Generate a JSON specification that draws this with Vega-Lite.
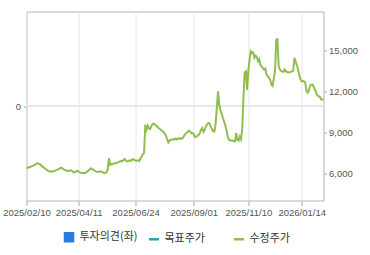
{
  "$schema": "https://vega.github.io/schema/vega-lite/v6.json",
  "autosize": "none",
  "width": 297,
  "height": 189,
  "padding": {"left": 26.5, "top": 11.5, "right": 46.5, "bottom": 54.5},
  "background": "white",
  "config": {
    "view": {"stroke": "#b4b4b4", "strokeWidth": 1},
    "axis": {"labelFont": "Liberation Sans", "labelFontSize": 9.5, "labelColor": "#555555", "tickColor": "#aaaaaa", "domain": false, "title": null, "labelOverlap": false, "labelFlush": false, "labelBound": false}
  },
  "data": {"values": [
    {"i":0,"p":6400},{"i":1,"p":6420},{"i":2,"p":6470},{"i":3,"p":6460},{"i":4,"p":6520},{"i":5,"p":6560},{"i":6,"p":6600},{"i":7,"p":6640},{"i":8,"p":6700},{"i":9,"p":6760},
    {"i":10,"p":6720},{"i":11,"p":6690},{"i":12,"p":6600},{"i":13,"p":6510},{"i":14,"p":6450},{"i":15,"p":6380},{"i":16,"p":6320},{"i":17,"p":6260},{"i":18,"p":6200},{"i":19,"p":6150},
    {"i":20,"p":6160},{"i":21,"p":6140},{"i":22,"p":6150},{"i":23,"p":6190},{"i":24,"p":6220},{"i":25,"p":6260},{"i":26,"p":6300},{"i":27,"p":6340},{"i":28,"p":6400},{"i":29,"p":6420},
    {"i":30,"p":6350},{"i":31,"p":6280},{"i":32,"p":6260},{"i":33,"p":6200},{"i":34,"p":6180},{"i":35,"p":6200},{"i":36,"p":6230},{"i":37,"p":6220},{"i":38,"p":6150},{"i":39,"p":6080},
    {"i":40,"p":6100},{"i":41,"p":6170},{"i":42,"p":6200},{"i":43,"p":6140},{"i":44,"p":6080},{"i":45,"p":6050},{"i":46,"p":6030},{"i":47,"p":6040},{"i":48,"p":6030},{"i":49,"p":6080},
    {"i":50,"p":6140},{"i":51,"p":6200},{"i":52,"p":6300},{"i":53,"p":6370},{"i":54,"p":6340},{"i":55,"p":6280},{"i":56,"p":6220},{"i":57,"p":6160},{"i":58,"p":6130},{"i":59,"p":6120},
    {"i":60,"p":6140},{"i":61,"p":6150},{"i":62,"p":6140},{"i":63,"p":6080},{"i":64,"p":6030},{"i":65,"p":6050},{"i":66,"p":6080},{"i":67,"p":6300},{"i":68,"p":7120},{"i":69,"p":6640},
    {"i":70,"p":6700},{"i":71,"p":6680},{"i":72,"p":6720},{"i":73,"p":6750},{"i":74,"p":6760},{"i":75,"p":6800},{"i":76,"p":6850},{"i":77,"p":6880},{"i":78,"p":6920},{"i":79,"p":6900},
    {"i":80,"p":6980},{"i":81,"p":7050},{"i":82,"p":6950},{"i":83,"p":6880},{"i":84,"p":6900},{"i":85,"p":6960},{"i":86,"p":6930},{"i":87,"p":7000},{"i":88,"p":7050},{"i":89,"p":6980},
    {"i":90,"p":6950},{"i":91,"p":6930},{"i":92,"p":6960},{"i":93,"p":6920},{"i":94,"p":7100},{"i":95,"p":7250},{"i":96,"p":7400},{"i":97,"p":7500},{"i":98,"p":9560},{"i":99,"p":9200},
    {"i":100,"p":9490},{"i":101,"p":9300},{"i":102,"p":9250},{"i":103,"p":9480},{"i":104,"p":9600},{"i":105,"p":9650},{"i":106,"p":9560},{"i":107,"p":9500},{"i":108,"p":9420},{"i":109,"p":9330},
    {"i":110,"p":9250},{"i":111,"p":9180},{"i":112,"p":9100},{"i":113,"p":9050},{"i":114,"p":8900},{"i":115,"p":8760},{"i":116,"p":8500},{"i":117,"p":8270},{"i":118,"p":8410},{"i":119,"p":8450},
    {"i":120,"p":8480},{"i":121,"p":8520},{"i":122,"p":8480},{"i":123,"p":8540},{"i":124,"p":8500},{"i":125,"p":8560},{"i":126,"p":8580},{"i":127,"p":8530},{"i":128,"p":8560},{"i":129,"p":8600},
    {"i":130,"p":8760},{"i":131,"p":8880},{"i":132,"p":8950},{"i":133,"p":9050},{"i":134,"p":9140},{"i":135,"p":9060},{"i":136,"p":8950},{"i":137,"p":8960},{"i":138,"p":8880},{"i":139,"p":8660},
    {"i":140,"p":8700},{"i":141,"p":8750},{"i":142,"p":8830},{"i":143,"p":8950},{"i":144,"p":9200},{"i":145,"p":9320},{"i":146,"p":9050},{"i":147,"p":9200},{"i":148,"p":9440},{"i":149,"p":9580},
    {"i":150,"p":9690},{"i":151,"p":9660},{"i":152,"p":9400},{"i":153,"p":9250},{"i":154,"p":9080},{"i":155,"p":9070},{"i":156,"p":9600},{"i":157,"p":10800},{"i":158,"p":12000},{"i":159,"p":11000},
    {"i":160,"p":10600},{"i":161,"p":10400},{"i":162,"p":10050},{"i":163,"p":9800},{"i":164,"p":9500},{"i":165,"p":9200},{"i":166,"p":8700},{"i":167,"p":8450},{"i":168,"p":8410},{"i":169,"p":8430},
    {"i":170,"p":8400},{"i":171,"p":8350},{"i":172,"p":8340},{"i":173,"p":8960},{"i":174,"p":8460},{"i":175,"p":8400},{"i":176,"p":8700},{"i":177,"p":8500},{"i":178,"p":9320},{"i":179,"p":11630},
    {"i":180,"p":13390},{"i":181,"p":13460},{"i":182,"p":12100},{"i":183,"p":13550},{"i":184,"p":14300},{"i":185,"p":14920},{"i":186,"p":14800},{"i":187,"p":14840},{"i":188,"p":14450},{"i":189,"p":14600},
    {"i":190,"p":14500},{"i":191,"p":14200},{"i":192,"p":14350},{"i":193,"p":13900},{"i":194,"p":13830},{"i":195,"p":13700},{"i":196,"p":13590},{"i":197,"p":13650},{"i":198,"p":13220},{"i":199,"p":13100},
    {"i":200,"p":12980},{"i":201,"p":12860},{"i":202,"p":12490},{"i":203,"p":12400},{"i":204,"p":12900},{"i":205,"p":13460},{"i":206,"p":15760},{"i":207,"p":15810},{"i":208,"p":13830},{"i":209,"p":13600},
    {"i":210,"p":13500},{"i":211,"p":13460},{"i":212,"p":13420},{"i":213,"p":13600},{"i":214,"p":13480},{"i":215,"p":13390},{"i":216,"p":13400},{"i":217,"p":13380},{"i":218,"p":13420},{"i":219,"p":13460},
    {"i":220,"p":13500},{"i":221,"p":14440},{"i":222,"p":14200},{"i":223,"p":13900},{"i":224,"p":13590},{"i":225,"p":13200},{"i":226,"p":12860},{"i":227,"p":12730},{"i":228,"p":12760},{"i":229,"p":12730},
    {"i":230,"p":12610},{"i":231,"p":12000},{"i":232,"p":11900},{"i":233,"p":12100},{"i":234,"p":12420},{"i":235,"p":12480},{"i":236,"p":12490},{"i":237,"p":12300},{"i":238,"p":12120},{"i":239,"p":11880},
    {"i":240,"p":11700},{"i":241,"p":11640},{"i":242,"p":11600},{"i":243,"p":11420},{"i":244,"p":11400},{"i":245,"p":11380}
  ]},
  "layer": [
    {
      "mark": {"type": "rule", "color": "#e6e6e6", "strokeWidth": 1},
      "encoding": {
        "y": {
          "datum": 0, "type": "quantitative",
          "scale": {"domain": [-1, 1], "nice": false, "zero": false},
          "axis": {"orient": "left", "values": [0], "grid": false, "tickSize": 3, "labelPadding": 3, "format": "d"}
        }
      }
    },
    {
      "mark": {"type": "line", "strokeWidth": 2, "interpolate": "linear"},
      "encoding": {
        "x": {
          "field": "i", "type": "quantitative",
          "scale": {"domain": [0, 245], "nice": false, "zero": false},
          "axis": {
            "orient": "bottom", "values": [0, 43, 90, 138, 183, 227], "grid": true, "gridColor": "#e6e6e6",
            "tickSize": 5, "labelPadding": 2,
            "labelExpr": "{'0':'2025/02/10','43':'2025/04/11','90':'2025/06/24','138':'2025/09/01','183':'2025/11/10','227':'2026/01/14'}[datum.value + '']"
          }
        },
        "y": {
          "field": "p", "type": "quantitative",
          "scale": {"domain": [4030, 17830], "nice": false, "zero": false},
          "axis": {"orient": "right", "values": [6000, 9000, 12000, 15000], "format": ",d", "grid": false, "tickSize": 3, "labelPadding": 2}
        },
        "color": {
          "datum": "수정주가",
          "scale": {"domain": ["투자의견(좌)", "목표주가", "수정주가"], "range": ["#2a7ae2", "#2aa3b3", "#8fbe4f"]},
          "legend": {
            "title": null, "orient": "none", "legendX": 36, "legendY": 219,
            "direction": "horizontal", "columns": 3, "gridAlign": "all", "columnPadding": 5,
            "labelFont": "Noto Sans CJK KR", "labelFontSize": 11, "labelColor": "#333333", "labelOffset": 4,
            "symbolSize": 100,
            "encode": {
              "symbols": {
                "update": {
                  "shape": {"signal": "datum.value === '투자의견(좌)' ? 'square' : 'stroke'"},
                  "size": {"signal": "datum.value === '투자의견(좌)' ? 64 : 100"},
                  "fill": {"signal": "datum.value === '투자의견(좌)' ? '#2a7ae2' : 'transparent'"},
                  "stroke": {"signal": "datum.value === '투자의견(좌)' ? 'transparent' : (datum.value === '목표주가' ? '#2aa3b3' : '#8fbe4f')"},
                  "strokeWidth": {"value": 2.5},
                  "opacity": {"value": 1}
                }
              }
            }
          }
        }
      }
    }
  ],
  "resolve": {"scale": {"y": "independent"}, "axis": {"y": "independent"}}
}
